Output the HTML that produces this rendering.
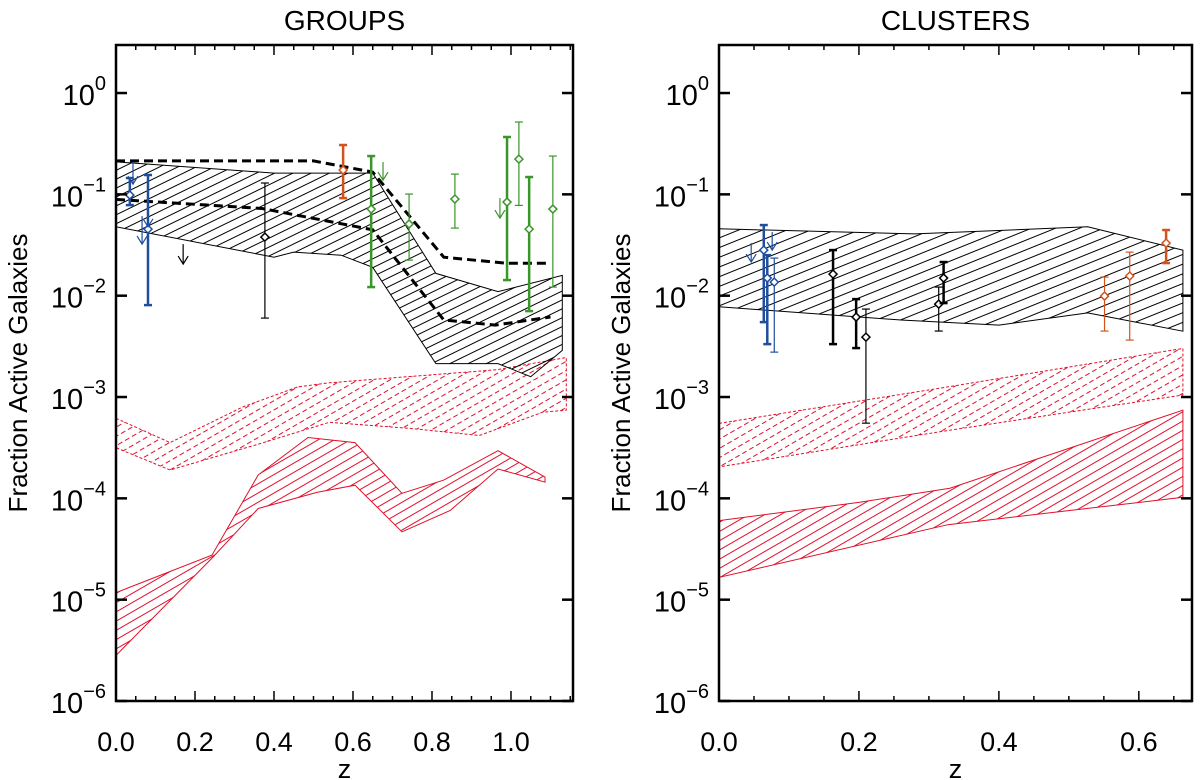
<!DOCTYPE html>
<html><head><meta charset="utf-8">
<style>
html,body{margin:0;padding:0;background:#fff;}
svg{display:block;font-family:"Liberation Sans",sans-serif;}
</style></head>
<body>
<svg id="chart" width="1200" height="780" viewBox="0 0 1200 780" xmlns="http://www.w3.org/2000/svg">
<defs>
<pattern id="hatchBlackL" patternUnits="userSpaceOnUse" width="20" height="8" patternTransform="rotate(-26)"><line x1="0" y1="4" x2="20" y2="4" stroke="#000" stroke-width="1"/></pattern>
<pattern id="hatchBlackR" patternUnits="userSpaceOnUse" width="20" height="9" patternTransform="rotate(-22)"><line x1="0" y1="4" x2="20" y2="4" stroke="#000" stroke-width="1"/></pattern>
<pattern id="hatchRed" patternUnits="userSpaceOnUse" width="20" height="8" patternTransform="rotate(-30)"><line x1="0" y1="4" x2="20" y2="4" stroke="#e0102a" stroke-width="1"/></pattern>
<pattern id="hatchRedDash" patternUnits="userSpaceOnUse" width="24" height="8" patternTransform="rotate(-30)"><line x1="0" y1="4" x2="24" y2="4" stroke="#e0102a" stroke-width="1" stroke-dasharray="5 3"/></pattern>
</defs>
<g id="plots"></g>
</svg>
<script>
// ---------- GROUPS data (z, log10 fraction) ----------
const gBlackZUp=[0,0.40,0.65,0.81,0.967,1.13];
const gBlackUp=[-0.68,-0.79,-0.79,-1.78,-1.96,-1.80];
const gBlackZLo=[0,0.40,0.45,0.57,0.65,0.81,0.967,1.05,1.13];
const gBlackLo=[-1.32,-1.62,-1.57,-1.60,-1.72,-2.67,-2.67,-2.80,-2.54];
const gDash1Z=[0,0.5,0.65,0.83,0.99,1.09];
const gDash1=[-0.67,-0.67,-0.78,-1.62,-1.68,-1.68];
const gDash2Z=[0,0.37,0.65,0.83,0.96,1.10];
const gDash2=[-1.05,-1.14,-1.35,-2.24,-2.29,-2.21];
const gRedDZUp=[0,0.137,0.32,0.46,0.54,0.965,1.14];
const gRedDUp=[-3.21,-3.45,-3.10,-2.90,-2.86,-2.73,-2.61];
const gRedDZLo=[0,0.137,0.365,0.54,0.745,0.92,1.08,1.14];
const gRedDLo=[-3.50,-3.72,-3.46,-3.25,-3.31,-3.38,-3.15,-3.13];
const gRedZUp=[0,0.243,0.36,0.486,0.605,0.724,0.83,0.967,1.086];
const gRedUp=[-4.93,-4.56,-3.77,-3.40,-3.45,-3.95,-3.82,-3.53,-3.79];
const gRedZLo=[0,0.243,0.36,0.51,0.605,0.724,0.846,0.967,1.086];
const gRedLo=[-5.55,-4.59,-4.10,-3.94,-3.87,-4.33,-4.12,-3.71,-3.84];
const gPtZ=[0.035,0.081,0.377,0.575,0.646,0.742,0.858,0.990,1.020,1.046,1.106];
const gPtV=[-1.007,-1.343,-1.422,-0.760,-1.145,-1.293,-1.046,-1.076,-0.652,-1.343,-1.145];
const gPtHi=[-0.839,-0.809,-0.888,-0.513,-0.622,-0.997,-0.800,-0.434,-0.286,-0.829,-0.622];
const gPtLo=[-1.106,-2.093,-2.221,-1.037,-1.915,-1.649,-1.333,-1.846,-1.109,-2.152,-1.915];
const gPtC=["blue","blue","black","orange","green","green","green","green","green","green","green"];
const gPtThick=[1,1,0,1,1,0,0,1,0,1,0];
const gArZ=[0.043,0.081,0.066,0.170,0.676,0.972];
const gArTop=[-0.681,-1.082,-1.214,-1.491,-0.681,-1.037];
const gArBot=[-0.899,-1.320,-1.491,-1.688,-0.859,-1.234];
const gArC=["blue","blue","blue","black","green","green"];

// ---------- CLUSTERS data ----------
const cBlackZUp=[0,0.28,0.527,0.663];
const cBlackUp=[-1.34,-1.39,-1.32,-1.55];
const cBlackZLo=[0,0.26,0.40,0.527,0.663];
const cBlackLo=[-2.11,-2.24,-2.29,-2.17,-2.35];
const cRedDZUp=[0,0.327,0.663];
const cRedDUp=[-3.26,-2.90,-2.52];
const cRedDZLo=[0,0.327,0.663];
const cRedDLo=[-3.69,-3.33,-2.98];
const cRedZUp=[0,0.2,0.33,0.663];
const cRedUp=[-4.22,-4.04,-3.90,-3.13];
const cRedZLo=[0,0.327,0.663];
const cRedLo=[-4.78,-4.26,-3.99];
const cPtZ=[0.064,0.069,0.079,0.163,0.196,0.210,0.314,0.321,0.551,0.587,0.639];
const cPtV=[-1.550,-1.826,-1.866,-1.787,-2.211,-2.409,-2.083,-1.826,-2.004,-1.806,-1.481];
const cPtHi=[-1.303,-1.600,-1.629,-1.550,-2.034,-2.132,-1.915,-1.668,-1.816,-1.570,-1.352];
const cPtLo=[-2.261,-2.478,-2.557,-2.478,-2.517,-3.258,-2.349,-2.073,-2.349,-2.438,-1.678];
const cPtC=["blue","blue","blue","black","black","black","black","black","orange","orange","orange"];
const cPtThick=[1,1,0,1,1,0,0,1,0,0,1];
const cArZ=[0.046,0.076];
const cArTop=[-1.481,-1.372];
const cArBot=[-1.668,-1.550];
const cArC=["blue","blue"];

const yTickVals=[0,-1,-2,-3,-4,-5,-6];
const gXTicks=["0.0","0.2","0.4","0.6","0.8","1.0"];
const cXTicks=["0.0","0.2","0.4","0.6"];

const COLORS={blue:"#1f4e9e",black:"#000",orange:"#d2541c",green:"#3a962a"};
const NS="http://www.w3.org/2000/svg";
const root=document.getElementById('plots');
function el(tag,attrs,parent){const e=document.createElementNS(NS,tag);for(const k in attrs)e.setAttribute(k,attrs[k]);(parent||root).appendChild(e);return e;}

function panel(P){
  const g=el('g',{});
  
  
  const X=z=>P.x0+(z-P.zmin)/(P.zmax-P.zmin)*(P.x1-P.x0);
  const Y=l=>P.y0+(P.lmax-l)/(P.lmax-P.lmin)*(P.y1-P.y0);
  const clipId='clip'+P.name;
  const cp=el('clipPath',{id:clipId},g);
  el('rect',{x:P.x0,y:P.y0,width:P.x1-P.x0,height:P.y1-P.y0},cp);
  const inner=el('g',{'clip-path':'url(#'+clipId+')'},g);
  function band(zu,vu,zl,vl,fill,stroke,dash,name){
    let pts=[];
    for(let i=0;i<zu.length;i++)pts.push(X(zu[i]).toFixed(1)+','+Y(vu[i]).toFixed(1));
    for(let i=zl.length-1;i>=0;i--)pts.push(X(zl[i]).toFixed(1)+','+Y(vl[i]).toFixed(1));
    const p=el('polygon',{points:pts.join(' '),fill:'url(#'+fill+')',stroke:stroke,'stroke-width':1,'stroke-dasharray':dash||'none'},inner);
    
    
  }
  function line(zs,vs,name){
    const d=zs.map((z,i)=>(i?'L':'M')+X(z).toFixed(1)+','+Y(vs[i]).toFixed(1)).join(' ');
    const p=el('path',{d:d,fill:'none',stroke:'#000','stroke-width':3,'stroke-dasharray':'9 5'},inner);
    
    
  }
  P.bands.forEach(b=>band(b[0],b[1],b[2],b[3],b[4],b[5],b[6],b[7]));
  (P.lines||[]).forEach(l=>line(l[0],l[1],l[2]));
  for(let i=0;i<P.pz.length;i++){
    const c=COLORS[P.pc[i]],w=P.pt[i]?2.5:1.2;
    const x=X(P.pz[i]),yh=Y(P.ph[i]),yl=Y(P.pl[i]),yv=Y(P.pv[i]);
    const pg=el('g',{stroke:c,fill:'none','stroke-width':w},inner);
    
    
    el('line',{x1:x,y1:yh,x2:x,y2:yl},pg);
    el('line',{x1:x-4,y1:yh,x2:x+4,y2:yh},pg);
    el('line',{x1:x-4,y1:yl,x2:x+4,y2:yl},pg);
    el('polygon',{points:`${x},${yv-4} ${x+4},${yv} ${x},${yv+4} ${x-4},${yv}`,fill:'#fff','stroke-width':1.5},pg);
  }
  for(let i=0;i<P.az.length;i++){
    const c=COLORS[P.ac[i]];
    const x=X(P.az[i]),yt=Y(P.at[i]),yb=Y(P.ab[i]);
    const ag=el('g',{stroke:c,fill:'none','stroke-width':1.2},inner);
    
    
    el('line',{x1:x,y1:yt,x2:x,y2:yb},ag);
    el('polyline',{points:`${x-5},${yb-8} ${x},${yb} ${x+5},${yb-8}`},ag);
  }
  const fr=el('rect',{x:P.x0,y:P.y0,width:P.x1-P.x0,height:P.y1-P.y0,fill:'none',stroke:'#000','stroke-width':2.5},g);
  
  
  for(let k=0;;k++){
    const z=P.zmin+k*0.05; if(z>P.zmax+1e-6)break;
    const major=k%4===0, x=X(z), len=major?10:5;
    el('line',{x1:x,y1:P.y1,x2:x,y2:P.y1-len,stroke:'#000','stroke-width':1.5},g);
    el('line',{x1:x,y1:P.y0,x2:x,y2:P.y0+len,stroke:'#000','stroke-width':1.5},g);
  }
  P.xt.forEach((t,i)=>{
    const tx=el('text',{x:X(parseFloat(t)),y:P.y1+50,'font-size':27,'text-anchor':'middle',fill:'#000'},g);
    tx.textContent=t;
    
    
  });
  yTickVals.forEach(v=>{
    const y=Y(v);
    el('line',{x1:P.x0,y1:y,x2:P.x0+11,y2:y,stroke:'#000','stroke-width':2.5},g);
    el('line',{x1:P.x1,y1:y,x2:P.x1-11,y2:y,stroke:'#000','stroke-width':2.5},g);
    const tx=el('text',{x:P.x0-10,y:y+12,'font-size':29,'text-anchor':'end',fill:'#000'},g);
    
    
    const t1=el('tspan',{},tx);t1.textContent='10';
    const t2=el('tspan',{dy:-15,'font-size':20},tx);t2.textContent=v===0?'0':'\u2212'+(-v);
  });
  const xt=el('text',{x:(P.x0+P.x1)/2,y:P.y1+77,'font-size':27,'text-anchor':'middle'},g);
  xt.textContent='z';
  
  
  const yt=el('text',{x:0,y:0,'font-size':26,'text-anchor':'middle',transform:`translate(${P.x0-89},${(P.y0+P.y1)/2}) rotate(-90)`},g);
  yt.textContent='Fraction Active Galaxies';
  
  
  const tt=el('text',{x:(P.x0+P.x1)/2,y:P.y0-15,'font-size':28,'text-anchor':'middle'},g);
  tt.textContent=P.title;
  
  
}

panel({name:'groups',title:'GROUPS',x0:116,x1:573,zmin:0,zmax:1.157,y0:45,y1:701,lmax:0.474,lmin:-6,
  bands:[[gRedDZUp,gRedDUp,gRedDZLo,gRedDLo,'hatchRedDash','#e0102a','3 2','red-dashed-band'],
         [gRedZUp,gRedUp,gRedZLo,gRedLo,'hatchRed','#e0102a',null,'red-solid-band'],
         [gBlackZUp,gBlackUp,gBlackZLo,gBlackLo,'hatchBlackL','#000',null,'black-band']],
  lines:[[gDash1Z,gDash1,'upper-dashed-line'],[gDash2Z,gDash2,'lower-dashed-line']],
  pz:gPtZ,pv:gPtV,ph:gPtHi,pl:gPtLo,pc:gPtC,pt:gPtThick,az:gArZ,at:gArTop,ab:gArBot,ac:gArC,xt:gXTicks});
panel({name:'clusters',title:'CLUSTERS',x0:719,x1:1192,zmin:0,zmax:0.676,y0:45,y1:701,lmax:0.474,lmin:-6,
  bands:[[cRedDZUp,cRedDUp,cRedDZLo,cRedDLo,'hatchRedDash','#e0102a','3 2','red-dashed-band'],
         [cRedZUp,cRedUp,cRedZLo,cRedLo,'hatchRed','#e0102a',null,'red-solid-band'],
         [cBlackZUp,cBlackUp,cBlackZLo,cBlackLo,'hatchBlackR','#000',null,'black-band']],
  lines:[],
  pz:cPtZ,pv:cPtV,ph:cPtHi,pl:cPtLo,pc:cPtC,pt:cPtThick,az:cArZ,at:cArTop,ab:cArBot,ac:cArC,xt:cXTicks});
</script>
</body></html>
